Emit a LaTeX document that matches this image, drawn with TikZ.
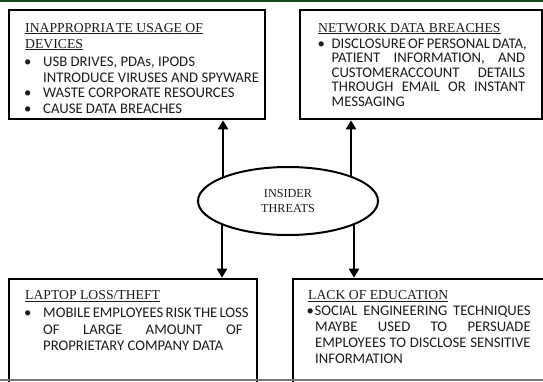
\documentclass[tikz,border=0pt]{standalone}
\usepackage{fontspec}
\setmainfont{Liberation Serif}
\newfontfamily\bodyfont{Carlito}
\usetikzlibrary{arrows.meta,shapes.geometric}

\definecolor{topgreen}{RGB}{20,78,26}
\definecolor{edgegray}{RGB}{120,120,120}
\definecolor{ink}{RGB}{28,28,28}

\tikzset{
  panel/.style={draw=black, line width=2.6pt, rectangle, inner sep=0pt},
  core/.style={draw=black, line width=2pt, ellipse, inner sep=0pt, align=center,
               text=ink, font=\fontsize{12.2}{14.3}\selectfont},
  head/.style={anchor=base west, inner sep=0pt, text=ink,
               font=\fontsize{13.7}{16}\selectfont},
  body/.style={anchor=base west, inner sep=0pt, text=ink,
               font=\bodyfont\fontsize{14.7}{16}\selectfont},
  link/.style={line width=2.4pt, -{Triangle[length=9pt,width=10pt]}},
}

\begin{document}
\begin{tikzpicture}[x=1pt,y=-1pt]
\useasboundingbox (0,0) rectangle (543,381);
\clip (0,0) rectangle (543,381);

% the four panels
\node[panel, minimum width=256pt, minimum height=109pt] (tl) at (137,64.5) {};
\node[panel, minimum width=242pt, minimum height=109pt] (tr) at (421,64.5) {};
\node[panel, minimum width=248pt, minimum height=121pt] (bl) at (133,339.5) {};
\node[panel, minimum width=277pt, minimum height=121pt] (br) at (431.5,339.5) {};

% central ellipse
\node[core, minimum width=180pt, minimum height=68pt] (ins) at (288,201) {INSIDER\\THREATS};

% arrows leaving the ellipse
\coordinate (u1) at (223,177.5);
\coordinate (u2) at (351,176.7);
\coordinate (d1) at (222,224.1);
\coordinate (d2) at (354,224.1);
\draw[link] (u1) -- (u1 |- tl.south);
\draw[link] (u2) -- (u2 |- tr.south);
\draw[link] (d1) -- (d1 |- bl.north);
\draw[link] (d2) -- (d2 |- br.north);

% top left panel
\node[head] (tlh1) at (25,32) {\underline{INAPPROPRIA\kern1.2pt TE USAGE OF}};
\node[head] (tlh2) at (25,48) {\underline{DEVICES}};
\node[body] (tlb1) at (24,66) {\textbullet};
\node[body] (tlt1) at (43,66) {USB DRIVES, PDAs, IPODS};
\node[body] (tlt2) at (43,82) {INTRODUCE VIRUSES AND SPYWARE};
\node[body] (tlb2) at (24,97.5) {\textbullet};
\node[body] (tlt3) at (43,97.5) {WASTE CORPORATE RESOURCES};
\node[body] (tlb3) at (24,113) {\textbullet};
\node[body] (tlt4) at (43,113) {CAUSE DATA BREACHES};

% top right panel
\node[head] (trh) at (318,32) {\underline{NETWORK DATA BREACHES}};
\node[body] (trb1) at (317.5,48) {\textbullet};
\node[body] (trt1) at (331.5,48) {\makebox[193.5pt][s]{DISCLOSURE OF PERSONAL DATA,}};
\node[body] (trt2) at (331.5,62.5) {\makebox[193.5pt][s]{PATIENT INFORMATION, AND}};
\node[body] (trt3) at (331.5,77) {\makebox[193.5pt][s]{CUSTOMERACCOUNT DETAILS}};
\node[body] (trt4) at (331.5,91.5) {\makebox[193.5pt][s]{THROUGH EMAIL OR INSTANT}};
\node[body] (trt5) at (331.5,106) {MESSAGING};

% bottom left panel
\node[head] (blh) at (25,299.5) {\underline{\smash{LAPTOP LOSS/THEFT}}};
\node[body] (blb1) at (24,317) {\textbullet};
\node[body] (blt1) at (43,317) {\makebox[199.5pt][s]{MOBILE EMPLOYEES RISK THE LOSS}};
\node[body] (blt2) at (43,334) {\makebox[199.5pt][s]{OF LARGE AMOUNT OF}};
\node[body] (blt3) at (43,350) {PROPRIETARY COMPANY DATA};

% bottom right panel
\node[head] (brh) at (308,299.5) {\underline{LACK OF EDUCATION}};
\node[body] (brb1) at (306.5,315.7) {\textbullet};
\node[body] (brt1) at (314.5,315.7) {\makebox[216pt][s]{SOCIAL ENGINEERING TECHNIQUES}};
\node[body] (brt2) at (315,331.5) {\makebox[215.5pt][s]{MAYBE USED TO PERSUADE}};
\node[body] (brt3) at (315,347) {\makebox[215.5pt][s]{EMPLOYEES TO DISCLOSE SENSITIVE}};
\node[body] (brt4) at (315,363.5) {INFORMATION};

% page rules at top and bottom
\fill[topgreen] (0,0) rectangle (543,2.2);
\fill[edgegray] (0,378.6) rectangle (543,381);
\end{tikzpicture}
\end{document}
